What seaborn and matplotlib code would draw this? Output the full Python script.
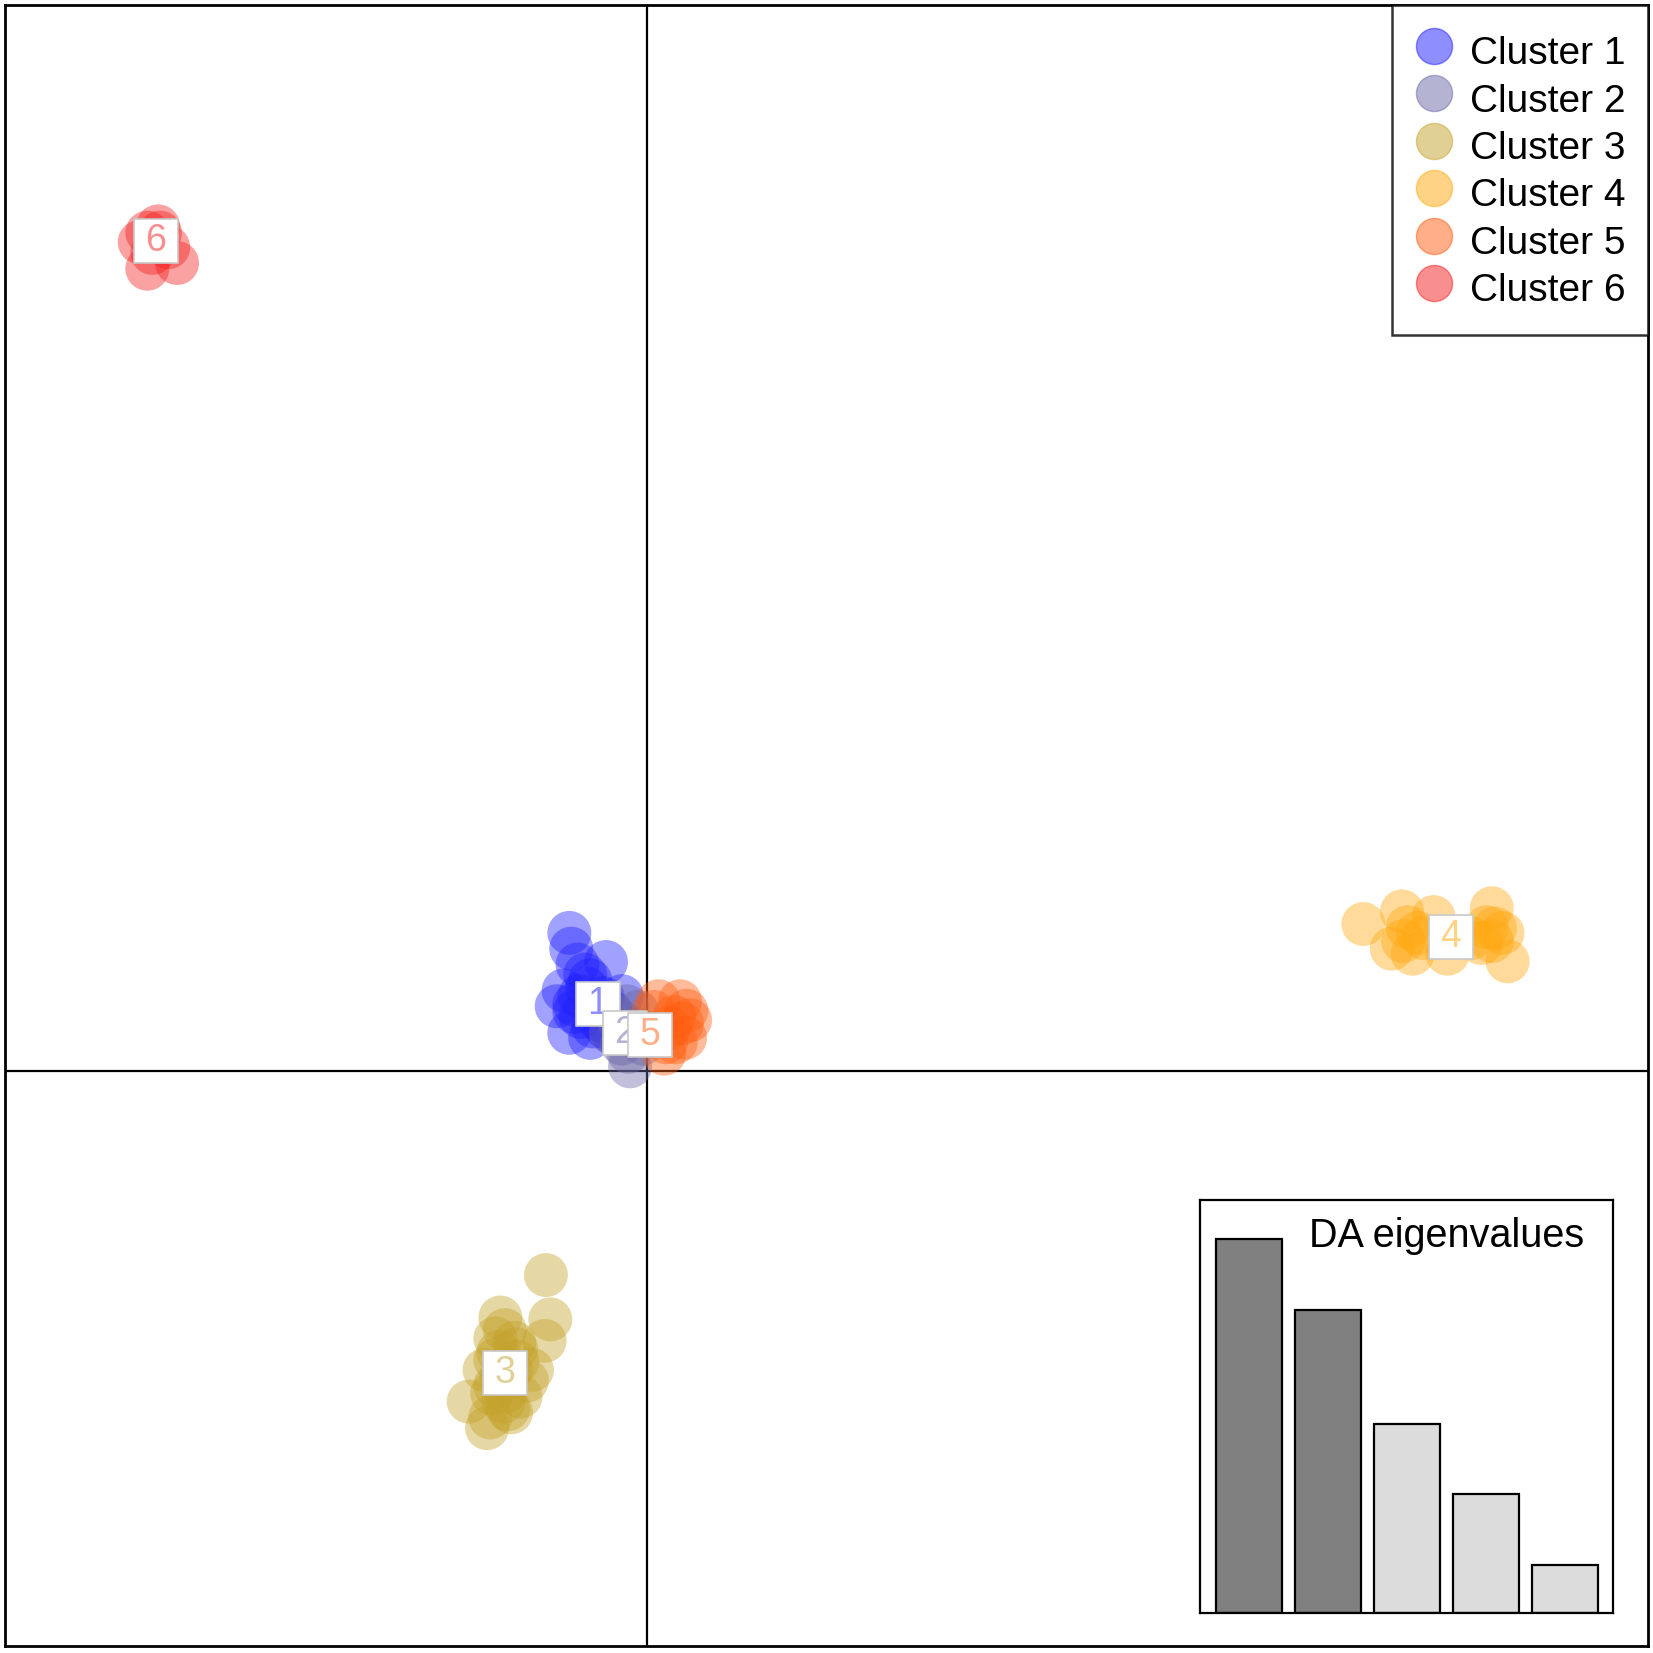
import numpy as np
import pandas as pd
import seaborn as sns
import matplotlib.pyplot as plt
from matplotlib.lines import Line2D

# DAPC scores (LD1, LD2) per cluster
c1_x = [-1.23, -1.20, -1.10, -0.65, -0.90, -1.32, -1.43, -1.15, -1.23, -0.90, -0.65, -0.40, -0.82, -1.07,
        -0.98, -0.57, -1.05, -0.75, -0.55, -0.95, -0.70, -1.15, -0.85]
c1_y = [2.18, 1.93, 1.68, 1.72, 1.43, 1.27, 1.02, 0.93, 0.60, 0.52, 0.68, 1.18, 1.02, 1.18,
        1.52, 0.93, 0.85, 0.80, 0.60, 1.30, 1.15, 1.05, 0.70]
c2_x = [-0.32, -0.23, -0.40, -0.27, -0.07, -0.57, -0.15, -0.30, -0.45]
c2_y = [1.02, 0.68, 0.43, 0.07, 0.43, 0.60, 0.93, 0.30, 0.80]
c3_x = [-1.60, -2.32, -1.53, -1.62, -2.40, -2.07, -2.57, -1.90, -2.23, -2.82, -2.48, -2.15, -2.53, -1.82,
        -2.40, -2.15, -2.27, -2.40, -2.25, -2.10, -2.35, -2.05, -2.30, -2.45, -2.20, -2.00]
c3_y = [-3.23, -3.90, -3.93, -4.27, -4.23, -4.40, -4.73, -4.90, -5.07, -5.23, -5.48, -5.40, -5.65, -4.73,
        -4.57, -4.73, -5.23, -4.98, -4.10, -4.30, -4.45, -4.60, -4.85, -5.10, -5.35, -5.15]
c4_x = [11.32, 11.93, 12.18, 11.77, 12.10, 12.02, 12.43, 12.65, 13.02, 13.35, 13.52, 13.60, 13.18, 13.27,
        12.27, 13.35, 13.40, 11.95]
c4_y = [2.32, 2.52, 2.18, 1.93, 1.85, 2.27, 2.43, 1.85, 2.10, 2.57, 2.18, 1.73, 2.02, 2.27,
        2.10, 2.05, 2.25, 2.05]
c5_x = [0.18, 0.43, 0.68, 0.60, 0.27, 0.02, 0.35, 0.52, 0.10, 0.55, 0.45, 0.62, 0.30]
c5_y = [1.10, 0.85, 0.80, 0.52, 0.27, 0.60, 0.68, 1.10, 0.93, 0.75, 0.45, 0.95, 0.45]
c6_x = [-7.90, -7.73, -8.02, -7.90, -7.43, -7.57, -7.82, -7.70]
c6_y = [13.25, 13.35, 13.10, 12.68, 12.77, 13.02, 12.93, 13.25]

# group centroids (label positions)
cent_x = [-0.78, -0.35, -2.25, 12.70, 0.05, -7.77]
cent_y = [1.05, 0.60, -4.77, 2.12, 0.57, 13.12]

clusters = ['Cluster 1', 'Cluster 2', 'Cluster 3', 'Cluster 4', 'Cluster 5', 'Cluster 6']
colors = ['#1f1fff', '#6c68a6', '#c4a22a', '#ffa80f', '#ff5e10', '#f51f1f']

eig_values = [355, 288, 180, 113, 46]
eig_colors = ['#808080', '#808080', '#dcdcdc', '#dcdcdc', '#dcdcdc']

xs = [c1_x, c2_x, c3_x, c4_x, c5_x, c6_x]
ys = [c1_y, c2_y, c3_y, c4_y, c5_y, c6_y]
df = pd.concat([pd.DataFrame({'LD1': x, 'LD2': y, 'grp': g}) for x, y, g in zip(xs, ys, clusters)],
               ignore_index=True)

sns.set_style('white')
plt.rcParams['font.family'] = ['Liberation Sans', 'DejaVu Sans']
plt.rcParams['text.color'] = 'black'

fig = plt.figure(figsize=(16.53, 16.53), dpi=100)
ax = fig.add_axes([0.003, 0.004, 0.994, 0.993])

ax.axhline(0, color='black', lw=1.6, zorder=1)
ax.axvline(0, color='black', lw=1.6, zorder=1)

sns.scatterplot(data=df, x='LD1', y='LD2', hue='grp', palette=dict(zip(clusters, colors)),
                s=1000, alpha=0.42, edgecolor=None, linewidth=0, legend=False, ax=ax, zorder=2)

# centroid labels: white square boxes with the group number
for i, g in enumerate(clusters):
    ax.scatter([cent_x[i]], [cent_y[i]], marker='s', s=1000, facecolor='white',
               edgecolor='#c8c8c8', linewidth=1.2, zorder=5 + 2 * i)
    ax.text(cent_x[i], cent_y[i], str(i + 1), fontsize=27, ha='center', va='center',
            color=colors[i], alpha=0.5, zorder=6 + 2 * i)

ax.set_xlim(-10.15, 15.82)
ax.set_ylim(-9.10, 16.85)
ax.set_xticks([])
ax.set_yticks([])
ax.set_xlabel('')
ax.set_ylabel('')
for sp in ax.spines.values():
    sp.set_color('black')
    sp.set_linewidth(2)

handles = [Line2D([], [], marker='o', ls='', markersize=26, markerfacecolor=c,
                  markeredgecolor=c, alpha=0.5) for c in colors]
leg = ax.legend(handles, clusters, loc='upper right', fontsize=28, frameon=True, fancybox=False,
                borderaxespad=0, handletextpad=0.42, labelspacing=0.0, borderpad=0.58,
                handlelength=1.0, handleheight=1.5)
leg.get_frame().set_edgecolor('black')
leg.get_frame().set_linewidth(1.8)
leg.set_zorder(20)

# eigenvalue inset
ins = fig.add_axes([0.726, 0.024, 0.25, 0.25])
eig = pd.DataFrame({'k': [str(i) for i in range(1, 6)], 'val': eig_values})
sns.barplot(data=eig, x='k', y='val', hue='k', palette=eig_colors, width=0.84,
            edgecolor='black', linewidth=1.6, legend=False, ax=ins)
ins.set_xlim(-0.62, 4.61)
ins.set_ylim(0, 392)
ins.set_xticks([])
ins.set_yticks([])
ins.set_xlabel('')
ins.set_ylabel('')
ins.set_facecolor('white')
for sp in ins.spines.values():
    sp.set_color('black')
    sp.set_linewidth(1.6)
ins.text(0.93, 0.913, 'DA eigenvalues', transform=ins.transAxes, ha='right', va='center',
         fontsize=28.5, color='black')

fig.savefig('out.png', dpi=100)
